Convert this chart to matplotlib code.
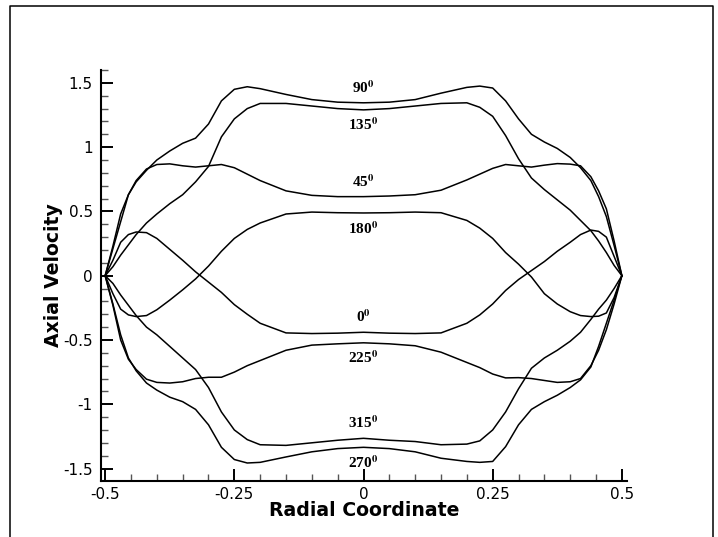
import matplotlib
matplotlib.use("Agg")
import matplotlib.pyplot as plt
from matplotlib.lines import Line2D
from matplotlib.ticker import MultipleLocator, FuncFormatter

plt.rcParams['font.family'] = ['DejaVu Sans']
plt.rcParams['mathtext.fontset'] = 'stix'
plt.rcParams['axes.unicode_minus'] = False

r = [-0.5, -0.485, -0.47, -0.455, -0.44, -0.42, -0.40, -0.375, -0.35, -0.325,
     -0.30, -0.275, -0.25, -0.225, -0.20, -0.15, -0.10, -0.05, 0.0,
     0.05, 0.10, 0.15, 0.20, 0.225, 0.25, 0.275, 0.30, 0.325, 0.35, 0.375,
     0.40, 0.42, 0.44, 0.455, 0.47, 0.485, 0.5]

# axial velocity profile for each phase angle
u_0 = [0, 0.12, 0.26, 0.32, 0.34, 0.335, 0.29, 0.205, 0.12, 0.03,
       -0.05, -0.13, -0.225, -0.30, -0.37, -0.445, -0.45, -0.447, -0.44,
       -0.447, -0.45, -0.445, -0.37, -0.305, -0.22, -0.115, -0.03, 0.04, 0.11, 0.19,
       0.26, 0.32, 0.355, 0.345, 0.30, 0.15, 0]
u_45 = [0, 0.23, 0.48, 0.63, 0.74, 0.83, 0.865, 0.87, 0.855, 0.845,
        0.855, 0.865, 0.84, 0.79, 0.74, 0.66, 0.625, 0.615, 0.615,
        0.62, 0.63, 0.665, 0.745, 0.79, 0.835, 0.865, 0.855, 0.845, 0.86, 0.872,
        0.868, 0.855, 0.77, 0.66, 0.52, 0.27, 0]
u_90 = [0, 0.21, 0.42, 0.63, 0.73, 0.82, 0.90, 0.97, 1.03, 1.07,
        1.18, 1.36, 1.45, 1.47, 1.455, 1.41, 1.37, 1.35, 1.345,
        1.35, 1.37, 1.42, 1.465, 1.475, 1.46, 1.36, 1.22, 1.10, 1.04, 0.99,
        0.92, 0.84, 0.74, 0.615, 0.46, 0.235, 0]
u_135 = [0, 0.07, 0.16, 0.24, 0.32, 0.41, 0.48, 0.56, 0.63, 0.73,
         0.85, 1.08, 1.22, 1.30, 1.34, 1.34, 1.32, 1.30, 1.29,
         1.30, 1.32, 1.34, 1.345, 1.31, 1.24, 1.09, 0.91, 0.76, 0.67, 0.59,
         0.51, 0.43, 0.35, 0.27, 0.18, 0.08, 0]
u_180 = [0, -0.14, -0.26, -0.305, -0.318, -0.31, -0.265, -0.19, -0.11, -0.025,
         0.075, 0.19, 0.29, 0.36, 0.41, 0.48, 0.495, 0.49, 0.488,
         0.49, 0.495, 0.49, 0.43, 0.37, 0.29, 0.18, 0.09, -0.01, -0.14, -0.22,
         -0.28, -0.31, -0.318, -0.315, -0.29, -0.17, 0]
u_225 = [0, -0.23, -0.50, -0.65, -0.73, -0.805, -0.83, -0.835, -0.825, -0.80,
         -0.79, -0.79, -0.75, -0.70, -0.66, -0.58, -0.54, -0.53, -0.522,
         -0.53, -0.545, -0.595, -0.675, -0.715, -0.765, -0.795, -0.793, -0.80, -0.815, -0.83,
         -0.825, -0.80, -0.70, -0.58, -0.42, -0.22, 0]
u_270 = [0, -0.22, -0.46, -0.64, -0.74, -0.835, -0.89, -0.945, -0.98, -1.04,
         -1.16, -1.335, -1.43, -1.457, -1.452, -1.41, -1.37, -1.345, -1.335,
         -1.345, -1.37, -1.42, -1.445, -1.452, -1.445, -1.33, -1.16, -1.04, -0.98, -0.93,
         -0.87, -0.81, -0.71, -0.55, -0.37, -0.19, 0]
u_315 = [0, -0.06, -0.15, -0.23, -0.31, -0.40, -0.46, -0.55, -0.64, -0.73,
         -0.87, -1.06, -1.20, -1.275, -1.315, -1.32, -1.30, -1.28, -1.265,
         -1.28, -1.29, -1.315, -1.31, -1.285, -1.20, -1.06, -0.88, -0.72, -0.64, -0.58,
         -0.51, -0.44, -0.34, -0.26, -0.19, -0.10, 0]

phases = [0, 45, 90, 135, 180, 225, 270, 315]
profiles = [u_0, u_45, u_90, u_135, u_180, u_225, u_270, u_315]
# label above (+1) or below (-1) the curve at the centreline
label_side = [1, 1, 1, -1, -1, -1, -1, 1]

fig = plt.figure(figsize=(7.18, 5.37), dpi=100)
ax = fig.add_axes([0.1407, 0.1043, 0.7326, 0.7653])

for ph, u, side in zip(phases, profiles, label_side):
    ax.plot(r, u, color='black', lw=1.1)
    u_mid = u[r.index(0.0)]
    ax.annotate('%d$^{\\mathbf{0}}$' % ph, xy=(0, u_mid), xytext=(0, 11 * side),
                textcoords='offset points', ha='center', va='center',
                fontsize=11, fontfamily='Liberation Serif', fontweight='bold')

ax.set_xlim(-0.508, 0.51)
ax.set_ylim(-1.597, 1.6)

ax.xaxis.set_major_locator(MultipleLocator(0.25))
ax.xaxis.set_minor_locator(MultipleLocator(0.05))
ax.yaxis.set_major_locator(MultipleLocator(0.5))
ax.yaxis.set_minor_locator(MultipleLocator(0.1))
fmt = FuncFormatter(lambda v, pos: '%g' % round(v, 3))
ax.xaxis.set_major_formatter(fmt)
ax.yaxis.set_major_formatter(fmt)

ax.tick_params(which='both', direction='in', top=False, right=False)
ax.tick_params(which='major', length=8.5, width=1.4, labelsize=11)
ax.tick_params(which='minor', length=5, width=1.0, color='#555555')
ax.tick_params(axis='x', which='major', pad=4.5)
ax.tick_params(axis='y', which='major', pad=6)

ax.spines['top'].set_visible(False)
ax.spines['right'].set_visible(False)
ax.spines['left'].set_linewidth(1.5)
ax.spines['bottom'].set_linewidth(1.5)

ax.set_xlabel('Radial Coordinate', fontsize=13.6, fontweight='bold', labelpad=-1)
ax.set_ylabel('Axial Velocity', fontsize=13.6, fontweight='bold')
ax.yaxis.label.set_va('center')
ax.yaxis.set_label_coords(-0.09, 0.5)

# outer frame of the exported picture (bottom edge is cut off)
W, H = 718, 537
fx = [10 / W, 10 / W, 712.5 / W, 712.5 / W]
fy = [0, 1 - 6 / H, 1 - 6 / H, 0]
fig.add_artist(Line2D(fx, fy, transform=fig.transFigure, color='black', lw=1.1))

fig.savefig('out.png', dpi=100)
